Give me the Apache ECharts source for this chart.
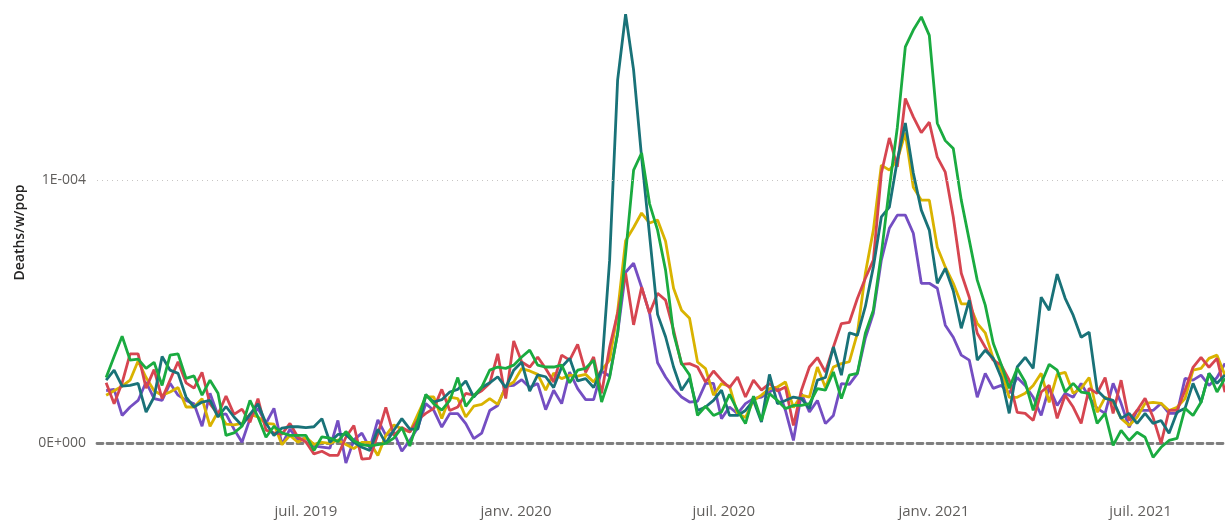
<!DOCTYPE html>
<html>
<head>
<meta charset="utf-8">
<script src="https://cdn.jsdelivr.net/npm/echarts@6/dist/echarts.min.js"></script>
<style>
    html, body { margin: 0; padding: 0; background: #fff; }
    #chart { width: 1225px; height: 520px; }
</style>
</head>
<body>
<div id="chart"></div>
<script>
// weekly series, values are deaths per week per million inhabitants (1E-004 = 100)
const firstWeek = Date.UTC(2019, 0, 7);
const weekMs = 7 * 24 * 3600 * 1000;

const redValues = [
    23, 15, 23, 34, 34, 21, 28, 17, 24, 31,
    23, 21, 27, 15, 11, 18, 11, 13, 8, 17,
    5, 4, 3.5, 7.6, 2.3, 0.5, -4, -3, -4.6, -4.6,
    2.3, 6.8, -6, -5.7, 3.5, 13.7, 3, 6, 4.3, 9,
    11.4, 13.3, 20.5, 12.5, 13.8, 19, 18.3, 20, 22.8, 34,
    17, 38.9, 30.9, 29, 32.8, 28.4, 23.3, 33.5, 31.6, 37.6,
    27, 32.8, 19, 36.5, 49.4, 64.6, 45, 59.3, 49.4, 57,
    54.4, 43, 30, 30.3, 29, 23.3, 27.5, 24, 21.2, 25.2,
    17.6, 24, 20.2, 22.7, 19.9, 21.4, 6.8, 20.2, 29, 32.6,
    27.1, 36.6, 45.5, 46, 55, 62.7, 69.6, 102.6, 116, 105,
    131, 124, 118, 122, 108.7, 103, 86, 64.6, 55.5, 41.8,
    36.5, 31.6, 29.7, 24, 11.8, 11.4, 8.7, 19.5, 22, 9.5,
    18.3, 13.8, 7.6, 20.9, 19, 25, 11.4, 24, 8.7, 12.5,
    17.1, 9.9, 0, 12.5, 12.5, 20.2, 28.9, 32.7, 28.9, 32.3,
    19.4
];
const yellowValues = [
    18.3, 20, 21.7, 24, 31.3, 25, 20, 18.3, 19.5, 21.2,
    13.8, 13.8, 17, 6.5, 12, 7.3, 7, 7.6, 11, 10,
    7.6, 7.3, -0.5, 3, 0.4, 2.3, -0.4, 0.4, 0, 1.3,
    -0.4, -2, 0.4, 0.4, -4.6, 3, 7, 5.5, 4.3, 11,
    17.6, 17.6, 9.4, 17.6, 17, 10, 14.1, 14.8, 17, 14.8,
    21.4, 23.3, 28.4, 27.5, 26.2, 20.2, 26.7, 24.6, 25.9, 25.5,
    26.2, 23.3, 27.8, 31.6, 50, 77, 82, 87.5, 83.7, 84.8,
    76.8, 58.9, 50.6, 47.5, 30.9, 28.4, 18.3, 22.7, 21.7, 11.3,
    9.8, 16.3, 18.3, 20.8, 21.4, 23.3, 13.6, 18.3, 17.6, 29,
    21.2, 29, 30.3, 31, 41.8, 64.6, 81, 105.7, 103.8, 107.6,
    118, 97.3, 92.4, 92.4, 74.5, 67, 60.8, 53, 53, 45.6,
    42, 32.2, 27.8, 17.5, 17.5, 19, 22, 26.6, 15.6, 26.2,
    27, 19, 20.9, 25, 11.8, 17.5, 15.6, 9.5, 6.8, 9.9,
    15.2, 15.6, 15.2, 12.5, 13.7, 17, 27.8, 28.5, 32.3, 33.5,
    25.9
];
const greenValues = [
    25, 33, 40.7, 31.6, 32, 28.5, 30.8, 22, 33.5, 34,
    24.7, 25.6, 18.3, 24, 19, 3, 4, 6.5, 16.3, 10,
    2.3, 6.5, 4, 3, 3, 3, -2.7, 2.5, 2, 0.7,
    4.5, 1, -0.5, -1, -0.5, 0, 2, 6, -1, 8.7,
    18.6, 15, 12.6, 16.3, 25, 14, 18, 21.4, 27.8, 29,
    28.5, 29.7, 32.8, 35.4, 29.7, 29, 29, 29.7, 23, 27.8,
    28.5, 31.6, 15.7, 25, 41.8, 72, 103.8, 110.3, 91, 81,
    65.8, 41.8, 30.4, 26, 10.6, 14.1, 10.6, 11.9, 18.6, 12.5,
    7.5, 17.9, 8.7, 18.9, 16.3, 13.2, 14.4, 14.4, 15.1, 20.8,
    20.2, 27.1, 17, 25.9, 26.6, 41.8, 50.6, 72, 97, 120,
    150.6, 157, 162, 155, 121.6, 115, 112, 92.4, 77.2, 62,
    52.5, 38, 30, 20.9, 28.5, 23.3, 12.5, 22.8, 30, 27.8,
    19.5, 22.8, 19.5, 19, 7.6, 11.4, -0.8, 4.9, 1.1, 4.2,
    2.3, -5.3, -1.5, 1.1, 1.9, 13.3, 10.6, 15.6, 26.6, 19.5,
    24.7
];
const tealValues = [
    24, 27.8, 21.7, 22, 22.8, 11.9, 17.6, 33, 27.8, 26.6,
    17.6, 13.8, 15.7, 16.3, 10, 14, 10, 6.8, 11, 15,
    7.6, 3, 5.8, 6.3, 6.3, 6, 6.3, 9.4, 0.4, 3.4,
    3.4, 0.4, -1.5, -2.7, 5.4, 0, 5, 9.4, 5.4, 5.4,
    18.3, 15.7, 16.6, 19.5, 20.5, 23.7, 17.6, 21.2, 23, 25.3,
    21.2, 27.8, 30.9, 19.8, 26, 25.3, 21.2, 29, 32.3, 23.7,
    24.6, 21.2, 28, 69.6, 138, 163, 141.8, 108.7, 79, 49,
    40.5, 29, 20.2, 24.7, 12.5, 13.8, 16.3, 20.2, 10.6, 10.6,
    12.5, 16.3, 8.1, 26.2, 15.1, 16.3, 17.6, 17, 13.2, 24,
    25, 36.6, 25.9, 42, 41, 52, 67, 86, 89.7, 107.6,
    121.7, 102.7, 88.6, 81, 60.8, 66.5, 58, 43.7, 54.4, 31.6,
    35.4, 32.3, 25, 11.4, 29, 32.7, 28.5, 55.5, 50.6, 64.3,
    55.1, 48.7, 40.3, 42.2, 20.2, 17.1, 16.3, 9.5, 11.4, 7.6,
    11.4, 7.6, 8.7, 3.8, 11.8, 13.3, 22.8, 15.6, 26.6, 22.8,
    26
];
const purpleValues = [
    20, 20.5, 10.6, 13.8, 16.3, 23.3, 17, 16.3, 22.8, 18.3,
    16.3, 15, 6.5, 19, 10.6, 11.2, 5.4, 0.4, 9.4, 13.3,
    7.6, 13.3, -0.4, 5.4, 1.3, 2, -1, -1.4, -1.8, 8.7,
    -7.5, 1.3, 3.9, -1.8, 8.9, 3, 4.2, -3, 1.1, 6,
    15.1, 12.5, 6.2, 11.3, 11.3, 7.5, 1.8, 3.9, 12.5, 14.4,
    21.7, 22, 24.2, 21.2, 22.7, 12.8, 20.2, 15.1, 27.1, 20.8,
    16.6, 16.6, 27.5, 25.5, 41.8, 65, 68.4, 59.3, 49.4, 30.6,
    25.2, 20.9, 17.6, 15.7, 16, 22.8, 22.8, 9.4, 13.8, 11.3,
    15.1, 17, 17.6, 19.5, 21.4, 12.5, 1.1, 18.9, 11.9, 16.3,
    7.5, 10.6, 22.7, 22.4, 26.5, 40, 49.4, 69.6, 81.7, 86.7,
    86.7, 79.8, 60.8, 60.8, 58.9, 44.9, 40.3, 33.5, 31.6, 17.5,
    26.6, 20.9, 22, 19, 25, 22, 17.5, 10.6, 21.3, 14.4,
    19, 17.5, 22.8, 17.5, 13.3, 11.4, 22.8, 15.2, 6.1, 12.5,
    12.5, 12.5, 15.2, 11.4, 11.4, 24.7, 24, 25.9, 22, 25,
    30.4
];

// tick labels
const yTickLabels = { 0: '0E+000', 100: '1E-004' };
const monthLabels = { 0: 'janv.', 6: 'juil.' };

const xMin = Date.UTC(2018, 11, 30);
const xMax = Date.UTC(2021, 8, 13);

const toPoints = (values) => values.map((v, i) => [firstWeek + i * weekMs, v]);

const font = "'Open Sans', 'Noto Sans', sans-serif";

const lineSeries = (name, color, values, extra) => Object.assign({
    name: name,
    type: 'line',
    showSymbol: false,
    symbol: 'none',
    lineStyle: { width: 2.8, color: color },
    itemStyle: { color: color },
    data: toPoints(values)
}, extra || {});

const chart = echarts.init(document.getElementById('chart'));
chart.setOption({
    animation: false,
    backgroundColor: '#fff',
    grid: { left: 97, right: 0, top: 9, bottom: 24, containLabel: false },
    xAxis: [
        {
            type: 'time',
            min: xMin,
            max: xMax,
            splitNumber: 6,
            axisLine: { show: false, onZero: false },
            axisTick: { show: false },
            splitLine: { show: false },
            axisLabel: {
                color: '#605E5C',
                fontFamily: font,
                fontSize: 15,
                margin: 8,
                hideOverlap: false,
                formatter: function (value) {
                    const d = new Date(value);
                    const m = d.getMonth();
                    if (d.getDate() !== 1 || !(m in monthLabels)) return '';
                    if (d.getFullYear() === 2019 && m === 0) return '';
                    return monthLabels[m] + ' ' + d.getFullYear();
                }
            }
        },
        {
            // dashed zero line
            type: 'time',
            min: xMin,
            max: xMax,
            axisLine: { show: true, onZero: true, lineStyle: { color: '#7f7f7f', width: 2.8, type: [6, 4] } },
            axisTick: { show: false },
            axisLabel: { show: false },
            splitLine: { show: false }
        }
    ],
    yAxis: {
        type: 'value',
        min: -20,
        max: 165,
        interval: 5,
        name: 'Deaths/w/pop',
        nameLocation: 'middle',
        nameGap: 70,
        nameTextStyle: {
            color: '#252423',
            fontFamily: font,
            fontSize: 14,
            fontWeight: 600,
            padding: [0, 0, 0, 40]
        },
        axisLine: { show: false },
        axisTick: { show: false },
        splitLine: { show: false },
        axisLabel: {
            color: '#605E5C',
            fontFamily: font,
            fontSize: 14,
            margin: 11,
            formatter: (v) => yTickLabels[Math.round(v)] || ''
        }
    },
    series: [
        lineSeries('purple', '#744EC2', purpleValues, {
            markLine: {
                silent: true,
                symbol: ['none', 'none'],
                label: { show: false },
                lineStyle: { color: '#c8c6c4', width: 1, type: [1, 4] },
                data: [{ yAxis: 100 }]
            }
        }),
        lineSeries('yellow', '#D9B300', yellowValues),
        lineSeries('red', '#D64550', redValues),
        lineSeries('teal', '#197278', tealValues),
        lineSeries('green', '#1AAB40', greenValues)
    ]
});
</script>
</body>
</html>
